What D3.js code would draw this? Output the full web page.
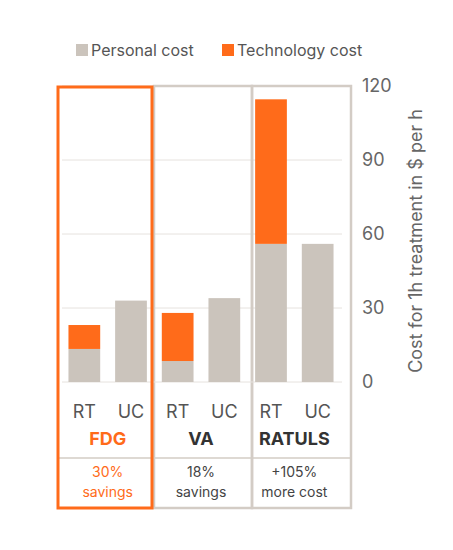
<!DOCTYPE html>
<html><head><meta charset="utf-8">
<script src="https://d3js.org/d3.v7.min.js"></script>
<style>body{margin:0;background:#fff}text{font-family:Inter,"Noto Sans",sans-serif}</style>
</head><body>
<script>
// data
var groups = ['FDG', 'VA', 'RATULS'];
var arms = ['RT', 'UC'];
var personal = [13.4, 33, 8.5, 34, 56, 56];
var technology = [9.7, 0, 19.5, 0, 58.6, 0];
var notes = [['30%', 'savings'], ['18%', 'savings'], ['+105%', 'more cost']];
var ticks = [0, 30, 60, 90, 120];

var grey = '#cbc4bc', orange = '#ff6b1a', ink = '#555';
var svg = d3.select('body').append('svg').attr('width', 453).attr('height', 550);

var y = d3.scaleLinear().domain([0, 120]).range([382, 86]);
var x = d3.scaleBand().domain(d3.range(6)).range([61, 341]).paddingInner(0.32).paddingOuter(0.16);

// grid
svg.selectAll('.grid').data(ticks.slice(1)).enter().append('line')
  .attr('x1', 62).attr('x2', 342).attr('y1', y).attr('y2', y)
  .attr('stroke', '#e6e2de').attr('stroke-width', 1);

// panels
var panels = [[154, 252], [252, 351]];
panels.forEach(function (p) {
  svg.append('rect').attr('x', p[0]).attr('y', 86).attr('width', p[1] - p[0]).attr('height', 422)
    .attr('fill', 'none').attr('stroke', '#d3ccc5').attr('stroke-width', 2.5);
});
svg.append('line').attr('x1', 58).attr('x2', 351).attr('y1', 458).attr('y2', 458).attr('stroke', '#d3ccc5').attr('stroke-width', 1.5);
svg.append('line').attr('x1', 62).attr('x2', 342).attr('y1', 382).attr('y2', 382).attr('stroke', '#e6e2de');

// bars
svg.selectAll('.p').data(personal).enter().append('rect')
  .attr('x', function (d, i) { return x(i); }).attr('width', x.bandwidth())
  .attr('y', function (d) { return y(d); }).attr('height', function (d) { return y(0) - y(d); })
  .attr('fill', grey);
svg.selectAll('.t').data(technology).enter().append('rect')
  .attr('x', function (d, i) { return x(i); }).attr('width', x.bandwidth())
  .attr('y', function (d, i) { return y(personal[i] + d); })
  .attr('height', function (d, i) { return y(personal[i]) - y(personal[i] + d); })
  .attr('fill', orange);

// arm labels
svg.selectAll('.arm').data(d3.range(6)).enter().append('text')
  .attr('x', function (i) { return x(i) + x.bandwidth() / 2; }).attr('y', 418)
  .attr('text-anchor', 'middle').attr('font-size', 18).attr('fill', ink)
  .text(function (i) { return arms[i % 2]; });
svg.selectAll('.grp').data(groups).enter().append('text')
  .attr('x', function (d, i) { return (x(i * 2) + x(i * 2 + 1) + x.bandwidth()) / 2; }).attr('y', 445)
  .attr('text-anchor', 'middle').attr('font-size', 18).attr('font-weight', 'bold')
  .attr('fill', function (d, i) { return i == 0 ? orange : '#333'; })
  .text(function (d) { return d; });
notes.forEach(function (n, i) {
  var cx = (x(i * 2) + x(i * 2 + 1) + x.bandwidth()) / 2;
  n.forEach(function (t, j) {
    svg.append('text').attr('x', cx).attr('y', 477 + j * 20).attr('text-anchor', 'middle')
      .attr('font-size', 14).attr('fill', i == 0 ? orange : '#444').text(t);
  });
});

// FDG highlight
svg.append('rect').attr('x', 58).attr('y', 87).attr('width', 94).attr('height', 421)
  .attr('fill', 'none').attr('stroke', orange).attr('stroke-width', 3);

// axis
var axis = svg.append('g').attr('transform', 'translate(342,0)')
  .call(d3.axisRight(y).tickValues(ticks).tickSize(0).tickPadding(20));
axis.select('.domain').remove();
axis.selectAll('text').attr('font-size', 18).attr('fill', '#666').style('font-family', 'Inter,sans-serif');
svg.append('text').attr('transform', 'translate(422,241) rotate(-90)')
  .attr('text-anchor', 'middle').attr('font-size', 18).attr('fill', '#666')
  .text('Cost for 1h treatment in $ per h');

// legend
var legend = [['Personal cost', grey, 76], ['Technology cost', orange, 222]];
legend.forEach(function (l) {
  svg.append('rect').attr('x', l[2]).attr('y', 44).attr('width', 12).attr('height', 12).attr('fill', l[1]);
  svg.append('text').attr('x', l[2] + 15).attr('y', 56).attr('font-size', 16).attr('fill', ink).text(l[0]);
});
</script>
</body></html>
